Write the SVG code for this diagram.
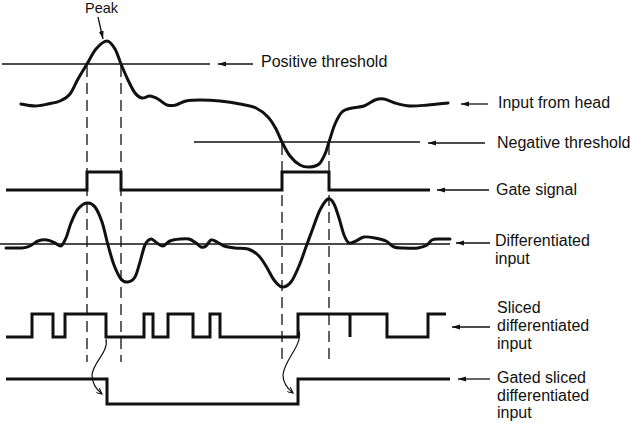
<svg xmlns="http://www.w3.org/2000/svg" width="630" height="423" viewBox="0 0 630 423">
<style>
.sig{fill:none;stroke:#111;stroke-width:3;stroke-linejoin:round;stroke-linecap:round}
.sq{fill:none;stroke:#111;stroke-width:3;stroke-linejoin:miter;stroke-linecap:butt}
.thr{fill:none;stroke:#111;stroke-width:1.5}
.dash{fill:none;stroke:#111;stroke-width:1.3;stroke-dasharray:11 6}
.arr{fill:none;stroke:#111;stroke-width:1.3;marker-end:url(#ah)}
.cur{fill:none;stroke:#111;stroke-width:1.2;marker-end:url(#ah2)}
text{font-family:"Liberation Sans",Arial,Helvetica,sans-serif;font-size:16px;fill:#111}
</style>
<defs>
<marker id="ah" markerUnits="userSpaceOnUse" markerWidth="9" markerHeight="6" refX="8" refY="3" orient="auto"><path d="M0,0.6 L8,3 L0,5.4 z" fill="#111"/></marker>
<marker id="ah2" markerUnits="userSpaceOnUse" markerWidth="8" markerHeight="6" refX="6" refY="3" orient="auto"><path d="M0,0 L6,3 L0,6" fill="none" stroke="#111" stroke-width="1.1"/></marker>
</defs>
<rect width="630" height="423" fill="#fff"/>

<g id="peak">
<text x="85" y="13" style="font-size:14.5px">Peak</text>
<line class="arr" x1="98" y1="17" x2="103" y2="39"/>
</g>

<g id="positive-threshold">
<line class="thr" x1="2" y1="64" x2="210" y2="64"/>
<text x="261" y="67">Positive threshold</text>
</g>

<g id="input-from-head">
<path class="sig" d="M21,104 C23.3,104.3 30.5,106 35,106 S43.8,104.8 48,104 S56.3,102.7 60,101 S67,97.7 70,94 S75.2,84 78,79 S84,69 87,64 S92.7,52.8 96,49 S103.8,41 107,41 S112.7,45.2 115,49 S118.8,58.8 121,64 S125.7,75.2 128,80 S132.7,90 135,93 S139.5,97.5 142,98 S147.3,95.8 150,96 S155.2,97.5 158,99 S164,104 167,105 S172.8,105.7 176,105 S182,101.8 186,101 S194.3,100 200,100 S213.3,100.3 220,101 S234,102.8 240,104 S251.3,105.8 256,108 S264.7,113.5 268,117 S273.7,124.8 276,129 S279.7,137.5 282,142 S287,152.2 290,156 S296.7,163.2 300,165 S306.8,167.2 310,167 S316.5,166.2 319,164 S323.3,157.7 325,154 S327.3,147 329,142 S332.8,129 335,124 S339.2,114.7 342,112 S348.3,109 352,108 S360.2,107.3 364,106 S371.7,101.2 375,100 S380.7,98.5 384,99 S390.7,101.8 395,103 S404.5,105.7 410,106 S421.7,105.5 428,105 S444.7,103.3 448,103"/>
<text x="498" y="108">Input from head</text>
</g>

<g id="negative-threshold">
<line class="thr" x1="194" y1="142" x2="420" y2="142"/>
<text x="497" y="148">Negative threshold</text>
</g>

<g id="gate-signal">
<path class="sq" d="M6,190 H87 V172 H121 V190 H282 V172 H329 V190 H430"/>
<text x="496" y="195">Gate signal</text>
</g>

<g id="differentiated-input">
<line class="thr" x1="0" y1="244" x2="450" y2="244"/>
<path class="sig" d="M6,248 C8.7,248 18,248.3 22,248 S27.3,247.2 30,246 S35.2,242 38,241 S44.2,239.7 47,240 S52.7,242 55,243 S59.2,246.8 61,246 S64.3,241.8 66,238 S69,227.8 71,223 S75.3,212.3 78,209 S84.2,203.3 87,203 S92.5,203.8 95,207 S99.8,215.7 102,222 S106,237.8 108,245 S111.8,259.3 114,265 S118.7,276.2 121,279 S125.7,282.3 128,282 S133,280.3 135,277 S138.3,267.3 140,262 S143.2,248.8 145,245 S149,239.3 151,239 S155,241.8 157,243 S160.8,246.3 163,246 S167.2,242.2 170,241 S176.8,239.3 180,239 S186.3,238.3 189,239 S194,241.7 196,243 S199.3,246.5 201,247 S204.3,247.2 206,246 S209.2,240.7 211,240 S214.8,241 217,242 S221,245 224,246 S231,247.5 235,248 S244.2,247.8 248,249 S255,252.2 258,255 S263.3,261.8 266,266 S271.3,276.5 274,280 S279.2,286.7 282,287 S288.2,285.5 291,282 S296.5,271.8 299,266 S303.7,253.3 306,247 S310.7,234.2 313,228 S317.5,214.8 320,210 S325.7,200 328,199 S332.2,200.8 334,204 S337.3,212.8 339,218 S342.3,230.8 344,235 S347,242 349,243 S353.5,242 356,241 S360.8,237.5 364,237 S371.3,237.3 375,238 S382.8,239.5 386,241 S391,245.8 394,247 S400,247.8 404,248 S414.2,248.5 418,248 S424.7,246.3 427,245 S429.8,241 432,240 S437,239.2 440,239 S448.3,239 450,239"/>
<text x="495" y="246">Differentiated</text>
<text x="495" y="264">input</text>
</g>

<g id="sliced-differentiated-input">
<path class="sq" d="M6,337 H32 V314 H53 V337 H65 V314 H106 V337 H144 V314 H153 V337 H168 V314 H193 V337 H210 V314 H220 V337 H298 V314 H350 V337 V314 H387 V337 H428 V314 H446"/>
<text x="497" y="313">Sliced</text>
<text x="497" y="331">differentiated</text>
<text x="497" y="349">input</text>
</g>

<g id="gated-sliced-differentiated-input">
<path class="sq" d="M6,379 H107 V404 H298 V379 H450"/>
<text x="497" y="383">Gated sliced</text>
<text x="497" y="401">differentiated</text>
<text x="497" y="418">input</text>
</g>

<g id="connectors">
<line class="dash" x1="87" y1="66" x2="87" y2="362"/>
<line class="dash" x1="121" y1="66" x2="121" y2="362"/>
<line class="dash" x1="282" y1="144" x2="282" y2="362"/>
<line class="dash" x1="329" y1="144" x2="329" y2="360"/>
<line class="arr" x1="253" y1="64" x2="218" y2="64"/>
<line class="arr" x1="488" y1="104" x2="461" y2="104"/>
<line class="arr" x1="485" y1="143" x2="428" y2="143"/>
<line class="arr" x1="489" y1="190" x2="437" y2="190"/>
<line class="arr" x1="490" y1="243" x2="456" y2="243"/>
<line class="arr" x1="490" y1="327" x2="452" y2="327"/>
<line class="arr" x1="490" y1="379" x2="458" y2="379"/>
<path class="cur" d="M106,339 C109,352 93,362 92,375 C92,385 97,390 102,394"/>
<path class="cur" d="M299,331 C303,345 284,360 283,375 C283,384 288,389 293,393"/>
</g>
</svg>
